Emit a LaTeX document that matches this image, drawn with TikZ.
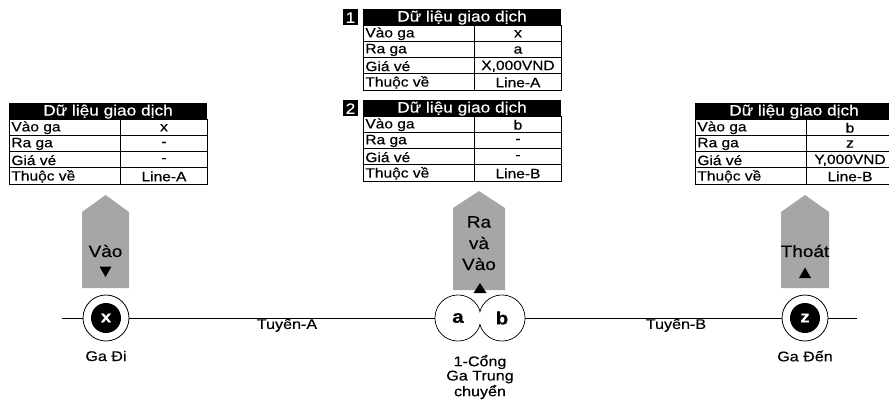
\documentclass[tikz,border=0pt]{standalone}
\usepackage{fontspec}
\setmainfont{Liberation Sans}[FakeStretch=1.15,FakeBold=0.4]
\definecolor{grayA}{RGB}{166,166,166}
\newcommand\mktable[7]{%
  \begin{scope}[shift={(#2,#3)}]
    \fill[black] (0,0) rectangle (198,16.2);
    \node[hdrtxt] (#1h) at (99,8.6) {Dữ liệu giao dịch};
    \draw (0,16.2) rectangle (198,81);
    \foreach \i in {2,3,4} \draw (0,16.2*\i) -- (198,16.2*\i);
    \draw (111,16.2) -- (111,81);
    \node[celltxt,anchor=west] (#1k1) at (2,24.8) {Vào ga};
    \node[celltxt,anchor=west] (#1k2) at (2,41.0) {Ra ga};
    \node[celltxt,anchor=west] (#1k3) at (2,57.2) {Giá vé};
    \node[celltxt,anchor=west] (#1k4) at (2,73.4) {Thuộc về};
    \begin{scope}
      \clip (111,16.2) rectangle (198,81);
      \node[celltxt] (#1v1) at (155,24.8) {#4};
      \node[celltxt] (#1v2) at (155,41.0) {#5};
      \node[celltxt] (#1v3) at (155,57.2) {#6};
      \node[celltxt] (#1v4) at (155,73.4) {#7};
    \end{scope}
  \end{scope}}
\begin{document}
\begin{tikzpicture}[x=1pt,y=-1pt,line width=0.8pt,
  hdrtxt/.style={text=white,font=\fontsize{15}{16}\selectfont,inner sep=0},
  celltxt/.style={font=\fontsize{13.5}{15}\selectfont,inner sep=0},
  arrowtxt/.style={font=\fontsize{16.5}{18}\selectfont,inner sep=0},
  station/.style={circle,draw,line width=0.8pt,fill=white,minimum size=46pt,inner sep=0},
  core/.style={circle,fill=black,minimum size=30pt,inner sep=0,text=white,font=\bfseries\fontsize{16}{16}\selectfont},
  lbl/.style={font=\fontsize{14}{16}\selectfont,inner sep=0,align=center},
  tri/.style={fill=black,draw=none}]
\useasboundingbox (0,0) rectangle (889,400);
\clip (0,0) rectangle (889,400);

% tables
\mktable{tL}{9}{103}{x}{-}{-}{Line-A}
\mktable{tA}{363}{9}{x}{a}{X,000VND}{Line-A}
\mktable{tB}{363}{100}{b}{-}{-}{Line-B}
\mktable{tR}{695}{103}{b}{z}{Y,000VND}{Line-B}
\fill[black] (343,9) rectangle (358,25.2);
\node[hdrtxt] (n1) at (350.5,17.6) {1};
\fill[black] (343,100) rectangle (358,116.2);
\node[hdrtxt] (n2) at (350.5,108.6) {2};

% grey arrows
\fill[grayA] (82,288) -- (82,212) -- (105.5,195) -- (129,212) -- (129,288) -- cycle;
\fill[grayA] (453,290) -- (453,208) -- (479,191) -- (505,208) -- (505,290) -- cycle;
\fill[grayA] (781,288) -- (781,212) -- (805,195) -- (829,212) -- (829,288) -- cycle;
\node[arrowtxt] (tVao) at (105.5,251) {Vào};
\fill[tri] (99.5,266.5) -- (111.5,266.5) -- (105.5,277) -- cycle;
\node[arrowtxt] (tRa) at (479,222) {Ra};
\node[arrowtxt] (tVa) at (479,243) {và};
\node[arrowtxt] (tVao2) at (479,264) {Vào};
\node[arrowtxt] (tThoat) at (805,251) {Thoát};
\fill[tri] (799,278) -- (811,278) -- (805,267.5) -- cycle;

% line and stations
\coordinate (lstart) at (62,318);
\coordinate (lend) at (857,318);
\node[station] (gaDi) at (106,318) {};
\node[core] (xc) at (106,318) {x};
\node[station] (ca) at (458,318) {};
\node[station] (cb) at (502,318) {};
\fill[white] (458,318) circle (22.4);
\fill[white] (502,318) circle (22.4);
\node[font=\bfseries\fontsize{18}{18}\selectfont] (la) at (458,318) {a};
\node[font=\bfseries\fontsize{18}{18}\selectfont] (lb) at (502,318) {b};
\fill[tri] (473.5,293) -- (486.5,293) -- (480,283) -- cycle;
\node[station] (gaDen) at (805,318) {};
\node[core] (zc) at (805,318) {z};
\draw (lstart) -- (gaDi.west);
\draw (gaDi.east) -- (ca.west);
\draw (cb.east) -- (gaDen.west);
\draw (gaDen.east) -- (lend);

% labels
\node[lbl] (tuyenA) at (287,325) {Tuyến-A};
\node[lbl] (tuyenB) at (676,325) {Tuyến-B};
\node[lbl] (sDi) at (106,356) {Ga Đi};
\node[lbl] (sDen) at (805,356) {Ga Đến};
\node[lbl] (sTr1) at (480,362) {1-Cổng};
\node[lbl] (sTr2) at (480,377) {Ga Trung};
\node[lbl] (sTr3) at (480,392) {chuyển};
\end{tikzpicture}
\end{document}
